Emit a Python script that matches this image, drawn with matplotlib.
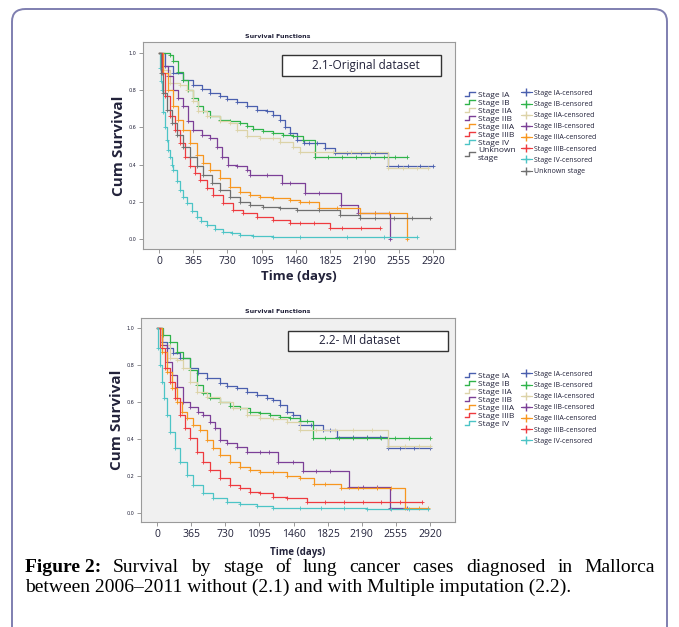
import numpy as np
import matplotlib.pyplot as plt
from matplotlib.lines import Line2D
from matplotlib.patches import FancyBboxPatch
from matplotlib.legend_handler import HandlerBase

# Stage labels / colours
stages = ["Stage IA", "Stage IB", "Stage IIA", "Stage IIB", "Stage IIIA", "Stage IIIB", "Stage IV", "Unknown stage"]
colors = ["#4a5fae", "#2fb34a", "#dcd3a8", "#7b3f97", "#f7961f", "#ee3a3f", "#4cc4c6", "#6f6f6f"]

# 2.1 Original dataset (days, cumulative survival)
t_orig = {
    "Stage IA": [0, 64, 153, 259, 366, 455, 543, 650, 721, 828, 934, 1041, 1147, 1218, 1289, 1342, 1396, 1467, 1540, 1600, 1680, 1769, 1875, 2000, 2150, 2300, 2440, 2550, 2650, 2780, 2920],
    "Stage IB": [0, 117, 153, 206, 259, 313, 366, 419, 472, 543, 650, 757, 863, 934, 1005, 1112, 1218, 1325, 1431, 1530, 1662, 1800, 1950, 2100, 2250, 2400, 2520, 2640],
    "Stage IIA": [0, 46, 117, 224, 295, 366, 419, 508, 650, 757, 828, 934, 1076, 1218, 1289, 1431, 1500, 1650, 1850, 2050, 2250, 2440, 2600, 2750, 2866],
    "Stage IIB": [0, 46, 99, 153, 206, 259, 313, 366, 455, 543, 614, 668, 739, 828, 934, 970, 1147, 1307, 1400, 1560, 1700, 1935, 2121, 2300, 2462],
    "Stage IIIA": [0, 46, 99, 153, 206, 259, 330, 401, 472, 543, 650, 757, 863, 970, 1076, 1218, 1396, 1502, 1600, 1700, 1900, 2140, 2300, 2450, 2640],
    "Stage IIIB": [0, 28, 64, 117, 171, 224, 277, 330, 384, 437, 508, 579, 685, 792, 899, 1041, 1218, 1396, 1502, 1650, 1822, 1950, 2150, 2355],
    "Stage IV": [0, 10, 20, 29, 46, 64, 82, 100, 117, 135, 152, 190, 224, 260, 295, 350, 401, 450, 508, 600, 685, 780, 863, 1000, 1218, 1500, 2000, 2400, 2746],
    "Unknown stage": [0, 18, 39, 82, 135, 188, 259, 330, 401, 472, 561, 650, 757, 863, 970, 1112, 1289, 1467, 1700, 1929, 2142, 2300, 2500, 2700, 2884],
}
s_orig = {
    "Stage IA": [1.0, 0.928, 0.89, 0.856, 0.83, 0.806, 0.785, 0.767, 0.752, 0.734, 0.713, 0.695, 0.686, 0.668, 0.641, 0.601, 0.569, 0.533, 0.514, 0.514, 0.514, 0.487, 0.46, 0.46, 0.46, 0.46, 0.392, 0.392, 0.392, 0.392, 0.392],
    "Stage IB": [1.0, 0.99, 0.955, 0.90, 0.856, 0.80, 0.758, 0.713, 0.686, 0.659, 0.641, 0.632, 0.623, 0.605, 0.59, 0.578, 0.569, 0.56, 0.551, 0.53, 0.443, 0.443, 0.443, 0.443, 0.443, 0.443, 0.443, 0.443],
    "Stage IIA": [1.0, 0.91, 0.838, 0.829, 0.80, 0.74, 0.686, 0.659, 0.632, 0.623, 0.587, 0.551, 0.542, 0.542, 0.524, 0.497, 0.47, 0.47, 0.47, 0.47, 0.47, 0.38, 0.38, 0.38, 0.38],
    "Stage IIB": [1.0, 0.928, 0.874, 0.80, 0.758, 0.713, 0.632, 0.587, 0.56, 0.542, 0.497, 0.443, 0.399, 0.39, 0.372, 0.345, 0.345, 0.30, 0.30, 0.246, 0.246, 0.183, 0.137, 0.137, 0.0],
    "Stage IIIA": [1.0, 0.89, 0.80, 0.713, 0.641, 0.587, 0.515, 0.452, 0.407, 0.372, 0.327, 0.282, 0.255, 0.237, 0.228, 0.219, 0.21, 0.20, 0.20, 0.164, 0.164, 0.137, 0.137, 0.137, 0.0],
    "Stage IIIB": [1.0, 0.89, 0.767, 0.659, 0.587, 0.515, 0.443, 0.39, 0.354, 0.318, 0.273, 0.237, 0.192, 0.156, 0.138, 0.12, 0.102, 0.088, 0.084, 0.084, 0.057, 0.057, 0.057, 0.057],
    "Stage IV": [1.0, 0.92, 0.85, 0.80, 0.68, 0.60, 0.53, 0.48, 0.442, 0.40, 0.371, 0.31, 0.263, 0.225, 0.192, 0.15, 0.12, 0.095, 0.075, 0.055, 0.04, 0.03, 0.022, 0.018, 0.013, 0.012, 0.011, 0.011, 0.011],
    "Unknown stage": [1.0, 0.89, 0.785, 0.695, 0.623, 0.56, 0.497, 0.443, 0.39, 0.345, 0.30, 0.264, 0.228, 0.201, 0.183, 0.174, 0.165, 0.156, 0.156, 0.13, 0.111, 0.111, 0.111, 0.111, 0.111],
}

# 2.2 MI dataset
t_mi = {
    "Stage IA": [0, 50, 103, 175, 246, 353, 442, 531, 674, 745, 852, 959, 1066, 1173, 1245, 1316, 1387, 1459, 1530, 1650, 1779, 1850, 1922, 2100, 2250, 2380, 2474, 2600, 2750, 2920],
    "Stage IB": [0, 68, 139, 210, 282, 353, 424, 496, 567, 674, 781, 888, 995, 1102, 1209, 1316, 1423, 1530, 1600, 1672, 1800, 1950, 2100, 2250, 2400, 2550, 2700, 2920],
    "Stage IIA": [0, 50, 139, 210, 282, 353, 424, 531, 674, 816, 959, 1102, 1245, 1387, 1530, 1700, 1900, 2100, 2300, 2474, 2650, 2800, 2920],
    "Stage IIB": [0, 50, 103, 157, 210, 282, 353, 442, 496, 567, 620, 674, 745, 852, 959, 1102, 1200, 1298, 1450, 1560, 1700, 1850, 2050, 2200, 2350, 2492, 2671],
    "Stage IIIA": [0, 50, 103, 157, 210, 264, 317, 389, 460, 531, 603, 674, 781, 888, 995, 1102, 1245, 1389, 1530, 1680, 1800, 1970, 2150, 2350, 2500, 2653, 2800, 2900],
    "Stage IIIB": [0, 32, 86, 139, 193, 246, 300, 353, 424, 496, 567, 674, 781, 888, 995, 1102, 1245, 1387, 1600, 1800, 2000, 2200, 2400, 2600, 2831],
    "Stage IV": [0, 14, 32, 54, 75, 103, 139, 193, 246, 317, 389, 496, 603, 745, 888, 1066, 1245, 1530, 1750, 2000, 2250, 2500, 2700, 2900],
}
s_mi = {
    "Stage IA": [1.0, 0.926, 0.89, 0.863, 0.836, 0.782, 0.755, 0.728, 0.70, 0.688, 0.674, 0.656, 0.638, 0.62, 0.611, 0.584, 0.548, 0.53, 0.476, 0.476, 0.45, 0.45, 0.413, 0.413, 0.413, 0.413, 0.353, 0.353, 0.353, 0.353],
    "Stage IB": [1.0, 0.962, 0.926, 0.872, 0.836, 0.773, 0.692, 0.647, 0.62, 0.602, 0.58, 0.566, 0.548, 0.539, 0.53, 0.521, 0.515, 0.497, 0.497, 0.407, 0.407, 0.407, 0.407, 0.407, 0.407, 0.407, 0.407, 0.407],
    "Stage IIA": [1.0, 0.908, 0.836, 0.827, 0.782, 0.71, 0.656, 0.629, 0.602, 0.566, 0.53, 0.512, 0.508, 0.494, 0.449, 0.449, 0.449, 0.449, 0.449, 0.36, 0.36, 0.36, 0.36],
    "Stage IIB": [1.0, 0.908, 0.818, 0.746, 0.683, 0.602, 0.575, 0.548, 0.53, 0.494, 0.458, 0.395, 0.377, 0.359, 0.332, 0.332, 0.332, 0.277, 0.277, 0.225, 0.225, 0.225, 0.14, 0.14, 0.14, 0.025, 0.025],
    "Stage IIIA": [1.0, 0.872, 0.764, 0.674, 0.602, 0.548, 0.512, 0.476, 0.449, 0.395, 0.35, 0.314, 0.277, 0.25, 0.232, 0.223, 0.22, 0.202, 0.187, 0.155, 0.155, 0.135, 0.135, 0.135, 0.135, 0.025, 0.025, 0.025],
    "Stage IIIB": [1.0, 0.89, 0.782, 0.71, 0.62, 0.53, 0.458, 0.404, 0.332, 0.277, 0.232, 0.187, 0.151, 0.133, 0.115, 0.106, 0.088, 0.079, 0.061, 0.061, 0.061, 0.061, 0.061, 0.061, 0.061],
    "Stage IV": [1.0, 0.89, 0.80, 0.71, 0.62, 0.53, 0.44, 0.35, 0.277, 0.205, 0.151, 0.106, 0.079, 0.061, 0.047, 0.036, 0.029, 0.025, 0.025, 0.024, 0.023, 0.023, 0.022, 0.022],
}

xticks = [0, 365, 730, 1095, 1460, 1825, 2190, 2555, 2920]
yticks = [0.0, 0.2, 0.4, 0.6, 0.8, 1.0]
txtc = "#22223a"
sans = "Open Sans"


class StepHandler(HandlerBase):
    # small step glyph like SPSS legend
    def create_artists(self, legend, orig_handle, xdescent, ydescent, width, height, fontsize, trans):
        xs = [0, width * 0.45, width * 0.45, width]
        ys = [height * 0.15, height * 0.15, height * 0.85, height * 0.85]
        ln = Line2D(xs, ys, color=orig_handle.get_color(), lw=1.0)
        ln.set_transform(trans)
        return [ln]


fig = plt.figure(figsize=(6.79, 6.27), dpi=100)
W, H = 679, 627


def fx(px):
    return px / W


def fy(py):
    return 1 - py / H


# outer rounded frame
frame = FancyBboxPatch((fx(12), fy(640)), fx(655), (640 - 9) / H,
                       boxstyle="round,pad=0,rounding_size=0.02", transform=fig.transFigure,
                       fc="none", ec="#7f7fb0", lw=1.4, zorder=-1)
fig.patches.append(frame)


def panel(box, xlim, ylim, tdict, sdict, names, label_box, label, lbl_pos, xlab_fs, xlab_y, title_y, leg_y):
    x0, y0, x1, y1 = box
    ax = fig.add_axes([fx(x0), fy(y1), fx(x1 - x0), (y1 - y0) / H])
    ax.set_facecolor("#f0f0f0")
    for name in names:
        c = colors[stages.index(name)]
        ax.plot(tdict[name], sdict[name], drawstyle="steps-post", color=c, lw=0.9)
        ax.plot(tdict[name][1:], sdict[name][1:], ls="none", marker="+", ms=2.6, mew=0.6, color=c)
    ax.set_xlim(*xlim)
    ax.set_ylim(*ylim)
    ax.set_xticks(xticks)
    ax.set_xticklabels([str(v) for v in xticks], fontsize=7.5, color=txtc, family=sans)
    ax.set_yticks(yticks)
    ax.set_yticklabels(["%.1f" % v for v in yticks], fontsize=3.5, color=txtc)
    ax.tick_params(length=3, width=0.6, color="#888888", pad=2)
    for sp in ax.spines.values():
        sp.set_color("#9a9a9a")
        sp.set_linewidth(0.8)
    ax.set_ylabel("Cum Survival", fontsize=11, fontweight="bold", color=txtc, labelpad=2, family=sans)
    fig.text(fx((x0 + x1) / 2), fy(xlab_y), "Time (days)", fontsize=xlab_fs, fontweight="bold",
             color=txtc, ha="center", va="center", family=sans)
    fig.text(fx(278), fy(title_y), "Survival Functions", fontsize=4.5, fontweight="bold",
             color=txtc, ha="center", va="center")
    bx0, by0, bx1, by1 = label_box
    r = plt.Rectangle((fx(bx0), fy(by1)), fx(bx1 - bx0), (by1 - by0) / H, transform=fig.transFigure,
                      fc="white", ec="#333333", lw=1.0, zorder=5)
    fig.patches.append(r)
    fig.text(fx(lbl_pos), fy((by0 + by1) / 2), label,
             fontsize=8.5, color=txtc, ha="center", va="center", zorder=6, family=sans)

    # legends
    h1 = [Line2D([], [], color=colors[stages.index(n)]) for n in names]
    l1 = [n.replace("Unknown stage", "Unknown\nstage") for n in names]
    leg1 = fig.legend(h1, l1, loc="upper left", bbox_to_anchor=(fx(462), fy(leg_y)),
                      frameon=False, handlelength=1.1, handletextpad=0.4,
                      labelspacing=0.02, borderaxespad=0, handler_map={Line2D: StepHandler()},
                      prop={"family": sans, "size": 6.0})
    for t in leg1.get_texts():
        t.set_color(txtc)
    h2 = [Line2D([], [], color=colors[stages.index(n)], marker="+", ls="-", ms=6, lw=0.8) for n in names]
    l2 = ["Unknown stage" if n == "Unknown stage" else n + "-censored" for n in names]
    leg2 = fig.legend(h2, l2, loc="upper left", bbox_to_anchor=(fx(518), fy(leg_y - 1)),
                      frameon=False, handlelength=1.6, handletextpad=0.3,
                      labelspacing=0.6, borderaxespad=0, prop={"family": sans, "size": 5.0})
    for t in leg2.get_texts():
        t.set_color(txtc)
    return ax


panel((143, 42, 455, 249), (-170, 3154), (-0.054, 1.059), t_orig, s_orig, stages,
      (282, 55, 441, 76), "2.1-Original dataset", 366, 9.5, 276, 37, 88)
panel((141, 318, 455, 522), (-171, 3187), (-0.049, 1.054), t_mi, s_mi, stages[:7],
      (288, 331, 448, 351), "2.2- MI dataset", 360, 7, 553, 312, 369)

# caption, first line justified
cap1 = ["Survival", "by", "stage", "of", "lung", "cancer", "cases", "diagnosed", "in", "Mallorca"]
cap2 = "between 2006\u20132011 without (2.1) and with Multiple imputation (2.2)."
cfs = 14
serif = "Liberation Serif"
renderer = fig.canvas.get_renderer()
words = [fig.text(0, fy(568), "Figure 2:", fontsize=cfs, fontweight="bold", family=serif, va="center")]
for w in cap1:
    words.append(fig.text(0, fy(568), w, fontsize=cfs, family=serif, va="center"))
widths = [t.get_window_extent(renderer).width for t in words]
gap = (630 - sum(widths)) / (len(words) - 1)
x = 25
for t, w in zip(words, widths):
    t.set_x(fx(x))
    x += w + gap
fig.text(fx(25), fy(587), cap2, fontsize=cfs, family=serif, va="center")

fig.savefig("out.png", dpi=100)
